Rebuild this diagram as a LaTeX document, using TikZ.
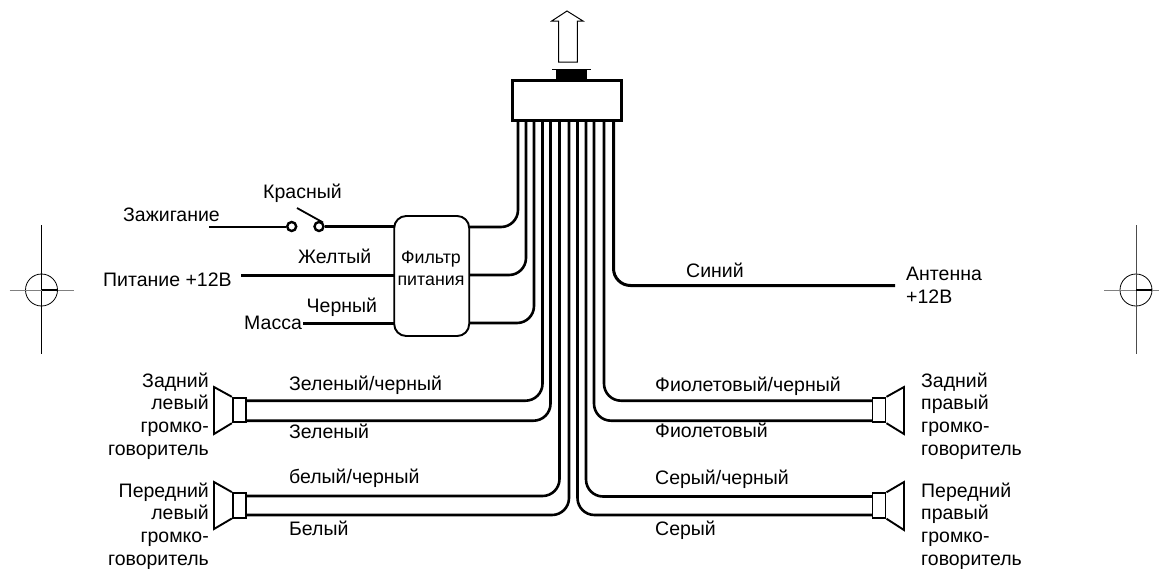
\documentclass[tikz,border=0pt]{standalone}
\usepackage{fontspec}
\setmainfont{Liberation Sans}
\tikzset{
	wire/.style={line width=2.6pt,rounded corners=17pt},
	feed/.style={line width=3pt},
	part/.style={line width=1.9pt},
	lbl/.style={anchor=base west,inner sep=0pt,font=\fontsize{19.5}{22.7}\selectfont},
	rlbl/.style={anchor=east,align=right,inner sep=0pt,font=\fontsize{19.5}{22.7}\selectfont},
	llbl/.style={anchor=west,align=left,inner sep=0pt,font=\fontsize{19.5}{22.7}\selectfont},
	coil/.style={draw,part,inner sep=0pt,minimum width=13pt,minimum height=24.5pt},
	pin/.style={circle,draw,line width=2.4pt,inner sep=0pt,minimum size=9pt,fill=white},
}
\begin{document}
\begin{tikzpicture}[x=1pt,y=-1pt]
	\useasboundingbox (0,0) rectangle (1159,568);

%	printer marks
	\foreach \mx/\ma/\mb/\mcol/\mname in {41.5/9.5/73.5/black/markl,1136/1104/1159/black!70/markr}{
		\node[circle,draw,line width=.8pt,inner sep=0pt,minimum size=32pt] (\mname) at (\mx,290) {};
		\draw[line width=.8pt,\mcol] (\mx,225) -- (\mx,354);
		\draw[line width=1pt,gray] (\ma,290) -- (\mb,290);
		\draw[line width=1.6pt] (\mname.center) -- (\mname.east);
	}

%	head unit plug and arrow
	\node[draw,line width=3.2pt,inner sep=0pt,minimum width=109pt,minimum height=40pt] (plug) at (567,100.5) {};
	\fill (556,81) rectangle (586.5,70);
	\draw[line width=1.6pt] (552,69.5) -- (590.5,69.5);
	\draw[line width=1pt] (558.7,62) -- (558.7,21) -- (551.7,21) -- (567,11) -- (583,21) -- (577.3,21) -- (577.3,62) -- cycle;

%	filter
	\node[draw,part,rounded corners=12pt,minimum width=75pt,minimum height=120pt,inner sep=0pt] (filter) at (431.7,276) {};
	\node[inner sep=0pt,align=center,font=\fontsize{17.8}{22.7}\selectfont] (filtertext) at (431,268.5) {Фильтр\\питания};

%	wire ends on the plug
	\foreach \wname/\wx in {wa/518,wb/526,wc/534,wd/542.5,we/550.5,wf/559.5,wg/569,wh/577.5,wi/586,wj/594,wk/604,wl/613.5}{
		\coordinate (\wname) at (\wx,120);
	}

%	filter side
	\coordinate (fa) at (469.5,227);
	\coordinate (fb) at (469.5,275);
	\coordinate (fc) at (469.5,323);
	\coordinate (fd) at (394,226.5);
	\coordinate (fe) at (394,275);
	\coordinate (ff) at (394,323);
	\draw[wire] (wa) |- (fa);
	\draw[wire] (wb) |- (fb);
	\draw[wire] (wc) |- (fc);

%	inputs
	\coordinate (ign) at (209,226.5);
	\coordinate (bat) at (241,275);
	\coordinate (gnd) at (303,323);
	\node[pin] (pina) at (291.7,226.5) {};
	\node[pin] (pinb) at (319,226.5) {};
	\coordinate (arm) at (297,208);
	\draw[line width=2pt] (ign) -- (pina);
	\draw[feed] (pinb) -- (fd);
	\draw[line width=1.8pt] (arm) -- (pinb.north east);
	\draw[feed] (bat) -- (fe);
	\draw[feed] (gnd) -- (ff);

%	antenna
	\coordinate (ant) at (895,285.5);
	\draw[wire,line width=3pt] (wl) |- (ant);

%	speakers
	\node[coil] (spka) at (239.3,410) {};
	\node[coil] (spkb) at (239.3,505.3) {};
	\node[coil] (spkc) at (879,410) {};
	\node[coil] (spkd) at (879,505.5) {};
	\draw[part] (spka.north west) -- (214,387) -- (214,434) -- (spka.south west);
	\draw[part] (spkb.north west) -- (214,482) -- (214,529) -- (spkb.south west);
	\draw[part] (spkc.north east) -- (904,387) -- (904,434) -- (spkc.south east);
	\draw[part] (spkd.north east) -- (904,482) -- (904,530) -- (spkd.south east);

%	speaker wires
	\coordinate (sa) at (246,400.7);
	\coordinate (sb) at (246,420.7);
	\coordinate (sc) at (246,496);
	\coordinate (sd) at (246,515);
	\coordinate (se) at (872.5,400.7);
	\coordinate (sf) at (872.5,420.7);
	\coordinate (sg) at (872.5,496.5);
	\coordinate (sh) at (872.5,515);
	\draw[wire] (wd) |- (sa);
	\draw[wire] (we) |- (sb);
	\draw[wire] (wf) |- (sc);
	\draw[wire] (wg) |- (sd);
	\draw[wire] (wk) |- (se);
	\draw[wire] (wj) |- (sf);
	\draw[wire] (wi) |- (sg);
	\draw[wire] (wh) |- (sh);

%	labels
	\node[lbl] (lred) at (263,198) {Красный};
	\node[lbl] (lign) at (123,221.7) {Зажигание};
	\node[lbl] (lyel) at (298,263) {Желтый};
	\node[lbl] (lbat) at (103,286.7) {Питание +12В};
	\node[lbl] (lblk) at (306.5,312.7) {Черный};
	\node[lbl] (lgnd) at (244,329) {Масса};
	\node[lbl] (lgb) at (289,390) {Зеленый/черный};
	\node[lbl] (lg) at (289,438) {Зеленый};
	\node[lbl] (lwb) at (289,483) {белый/черный};
	\node[lbl] (lw) at (289,535) {Белый};
	\node[lbl] (lblue) at (686,277) {Синий};
	\node[lbl] (lvb) at (655,391.5) {Фиолетовый/черный};
	\node[lbl] (lv) at (655,437) {Фиолетовый};
	\node[lbl] (lsb) at (655,484) {Серый/черный};
	\node[lbl] (ls) at (655,535) {Серый};
	\node[llbl] (lant) at (906,285) {Антенна\\+12В};
	\node[rlbl] (lrl) at (209,416) {Задний\\левый\\громко-\\говоритель};
	\node[rlbl] (lfl) at (209,526) {Передний\\левый\\громко-\\говоритель};
	\node[llbl] (lrr) at (921,416) {Задний\\правый\\громко-\\говоритель};
	\node[llbl] (lfr) at (921,526) {Передний\\правый\\громко-\\говоритель};
\end{tikzpicture}
\end{document}
